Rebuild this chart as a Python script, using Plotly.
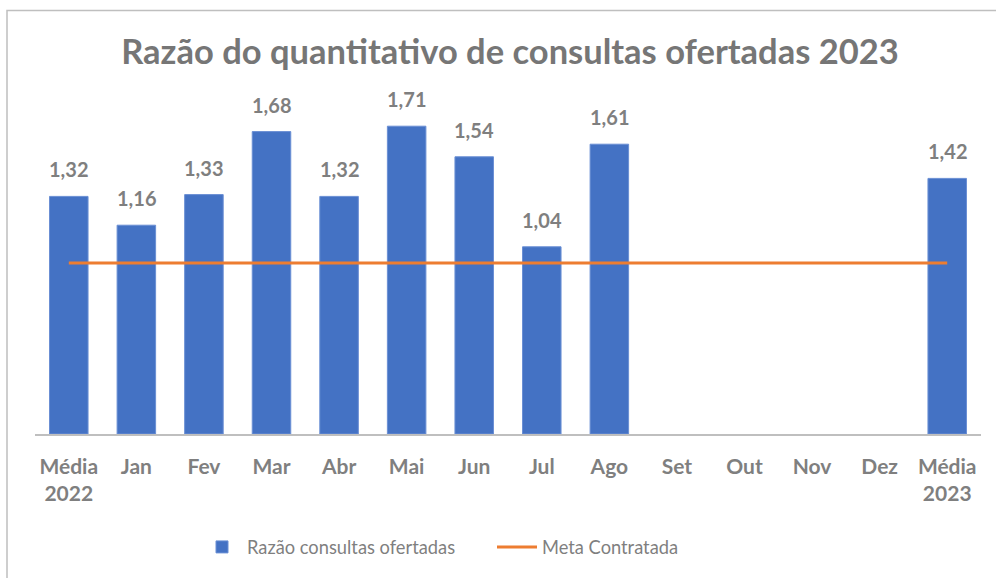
import plotly.graph_objects as go

categories = ["Média<br>2022", "Jan", "Fev", "Mar", "Abr", "Mai", "Jun", "Jul", "Ago",
              "Set", "Out", "Nov", "Dez", "Média<br>2023"]
razao = [1.32, 1.16, 1.33, 1.68, 1.32, 1.71, 1.54, 1.04, 1.61,
         None, None, None, None, 1.42]
meta = [0.95] * 14

labels = [("%.2f" % v).replace(".", ",") if v is not None else "" for v in razao]

W, H = 996, 578
L, R, T, B = 35, 981, 74, 434
FONT = "Lato"
GRAY = "#7F7F7F"

def px(x):
    return (x - L) / (R - L)

def py(y):
    return (B - y) / (B - T)

fig = go.Figure()
fig.add_trace(go.Bar(
    x=categories, y=razao, name="Razão consultas ofertadas",
    marker=dict(color="#4472C4", line=dict(color="#6A8FD4", width=1)),
))
fig.add_trace(go.Scatter(
    x=categories, y=meta, name="Meta Contratada", mode="lines",
    line=dict(color="#ED7D31", width=3),
))

annotations = []
for c, v, t in zip(categories, razao, labels):
    if v is None:
        continue
    annotations.append(dict(x=c, y=v, xref="x", yref="y", text="<b>%s</b>" % t,
                            showarrow=False, yanchor="bottom", yshift=13,
                            font=dict(family=FONT, size=20, color=GRAY)))

fig.update_layout(
    width=W, height=H,
    margin=dict(l=L, r=W - R, t=T, b=H - B),
    paper_bgcolor="white", plot_bgcolor="white",
    bargap=0.43,
    font=dict(family=FONT, color=GRAY),
    title=dict(text="<b>Razão do quantitativo de consultas ofertadas 2023</b>",
               x=510 / W, xanchor="center", y=1 - 52 / H, yanchor="middle",
               font=dict(family=FONT, size=34.5, color="#767676")),
    xaxis=dict(showline=True, linecolor="#BFBFBF", linewidth=1.5, ticks="",
               tickfont=dict(family=FONT, size=21, color=GRAY, weight="bold"),
               ticklabelstandoff=13, showgrid=False),
    yaxis=dict(range=[0, 2.0], visible=False, showgrid=False),
    legend=dict(orientation="h", x=px(197), xanchor="left", y=py(547), yanchor="middle",
                font=dict(family=FONT, size=18.3, color=GRAY), itemwidth=40,
                entrywidth=240, traceorder="normal"),
    showlegend=True,
    annotations=annotations,
    shapes=[dict(type="rect", xref="paper", yref="paper",
                 x0=px(7), x1=px(1005), y0=py(585), y1=py(10.5),
                 line=dict(color="#BFBFBF", width=1.5), fillcolor="rgba(0,0,0,0)",
                 layer="below")],
)

fig.write_html("out.html", config={"displayModeBar": False},
               post_script="document.body.style.margin='0px';")
